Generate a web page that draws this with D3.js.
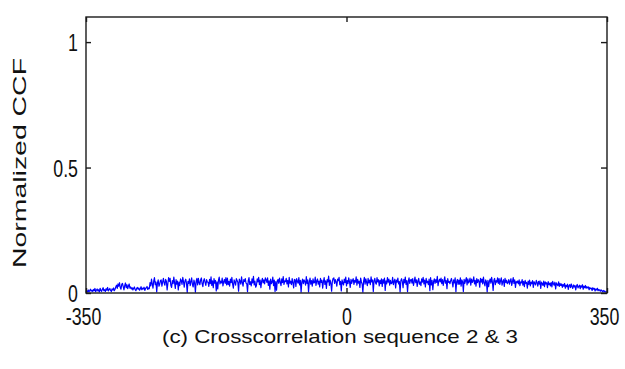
<!DOCTYPE html>
<html>
<head>
<meta charset="utf-8">
<script src="https://cdn.jsdelivr.net/npm/d3@7"></script>
<style>
  body { margin: 0; background: #fff; }
  svg { display: block; }
  text { font-family: "Liberation Sans", Arial, sans-serif; fill: #111; }
</style>
</head>
<body>
<svg id="chart" width="625" height="369"></svg>
<script>
// lags and the normalized |CCF|
const lagRange = [-350, 350];
const lags = d3.range(-350, 351);
const xTicks = [-350, 0, 350];
const yTicks = [0, 0.5, 1];
const yTickLabels = ["0", "0.5", "1"];
const xLabel = "(c) Crosscorrelation sequence 2 & 3";
const yLabel = "Normalized CCF";

// lags -350 .. -311
const ccfLeftEdge = [.003,.008,.005,.012,.004,.010,.015,.007,.011,.006,.014,.009,.018,.005,.012,.016,.008,.013,.004,.019,
  .010,.007,.015,.021,.009,.013,.006,.017,.011,.022,.008,.014,.018,.010,.006,.016,.012,.020,.009,.015];
// lags -310 .. -290
const ccfLeftBump = [.024,.031,.018,.036,.027,.041,.022,.015,.034,.038,.025,.012,.029,.040,.021,.033,.017,.028,.036,.019,.024];
// lags -289 .. -265
const ccfLeftFlat = [.016,.021,.012,.019,.024,.014,.009,.018,.022,.015,.020,.011,.017,.025,.013,.019,.016,.023,.010,.018,.021,.026,.014,.020,.017];
// lags -264 .. 229
const ccfMiddle = [
  .041,.028,.055,.036,.019,.048,.061,.033,.044,.004,.039,.052,.027,
  .035,.049,.052,.027,.044,.058,.040,.031,.054,.047,.012,.038,.061,
  .046,.058,.031,.022,.049,.037,.063,.041,.018,.053,.035,.047,.012,
  .043,.029,.056,.050,.034,.062,.045,.023,.048,.055,.039,.002,.046,
  .038,.056,.029,.045,.060,.034,.024,.051,.040,.003,.047,.058,.032,
  .058,.041,.033,.052,.060,.037,.025,.049,.057,.042,.030,.053,.044,
  .043,.026,.054,.037,.064,.030,.048,.021,.057,.039,.050,.008,.044,
  .016,.051,.063,.036,.047,.040,.059,.028,.045,.054,.038,.061,.032,
  .059,.033,.046,.027,.055,.041,.062,.035,.019,.052,.044,.031,.057,
  .050,.043,.007,.055,.048,.035,.064,.042,.027,.053,.046,.057,.039,
  .038,.005,.049,.061,.034,.045,.028,.056,.040,.066,.032,.047,.023,
  .030,.056,.044,.062,.033,.051,.021,.047,.058,.040,.052,.036,.060,
  .053,.042,.060,.030,.048,.015,.055,.037,.043,.063,.029,.051,.006,
  .045,.011,.049,.054,.038,.059,.043,.029,.056,.041,.065,.034,.048,
  .045,.058,.036,.050,.024,.062,.039,.047,.033,.057,.041,.020,.054,
  .053,.026,.057,.046,.039,.061,.032,.050,.003,.044,.055,.037,.052,
  .046,.031,.065,.038,.052,.004,.043,.059,.035,.049,.027,.056,.040,
  .041,.063,.030,.048,.056,.035,.047,.024,.058,.042,.051,.019,.045,
  .061,.034,.048,.018,.053,.044,.067,.030,.051,.039,.007,.046,.058,
  .060,.038,.053,.044,.027,.055,.049,.062,.033,.046,.008,.052,.040,
  .032,.055,.041,.063,.028,.049,.037,.060,.045,.022,.054,.038,.050,
  .057,.034,.050,.043,.064,.031,.054,.039,.047,.022,.059,.045,.036,
  .003,.047,.062,.035,.056,.042,.029,.058,.040,.051,.033,.064,.044,
  .052,.006,.048,.058,.041,.035,.061,.044,.053,.028,.050,.037,.056,
  .026,.053,.039,.059,.010,.048,.036,.061,.043,.055,.031,.050,.037,
  .040,.062,.033,.047,.055,.020,.051,.043,.059,.036,.046,.004,.049,
  .057,.045,.021,.054,.040,.063,.034,.049,.005,.046,.060,.038,.052,
  .054,.039,.057,.030,.045,.063,.041,.052,.026,.048,.058,.035,.044,
  .029,.056,.043,.062,.036,.051,.024,.058,.041,.047,.033,.055,.009,
  .061,.032,.050,.013,.046,.056,.038,.053,.042,.066,.029,.047,.055,
  .044,.059,.037,.053,.030,.048,.064,.039,.050,.017,.057,.042,.046,
  .037,.049,.058,.043,.024,.052,.040,.060,.005,.045,.054,.034,.051,
  .035,.060,.027,.052,.045,.006,.054,.038,.049,.061,.032,.056,.040,
  .046,.059,.031,.055,.042,.048,.064,.036,.050,.027,.057,.041,.053,
  .047,.023,.058,.043,.055,.036,.063,.041,.028,.052,.045,.004,.050,
  .025,.047,.056,.039,.062,.044,.010,.051,.058,.033,.049,.043,.060,
  .038,.057,.034,.049,.060,.031,.046,.053,.026,.058,.042,.051,.037,
  .042,.053,.035,.048,.057,.030,.045,.061,.038,.052,.022,.046,.041
];
// lags 230 .. 287
const ccfRightFall = [.048,.036,.052,.029,.044,.040,.053,.031,.046,.025,.050,.038,.042,.019,.047,.034,.051,.028,.043,.037,
  .049,.022,.045,.039,.032,.050,.041,.027,.046,.035,.048,.018,.043,.038,.030,.047,.025,.044,.036,.041,
  .021,.045,.033,.039,.028,.042,.024,.046,.037,.031,.043,.016,.040,.034,.029,.044,.026,.038];
// lags 288 .. 323
const ccfRightLow = [.030,.036,.022,.034,.027,.038,.019,.031,.025,.035,.014,.029,.033,.021,.036,.026,.018,.032,.024,.030,
  .012,.028,.034,.020,.026,.031,.017,.029,.023,.033,.015,.027,.021,.030,.019,.025];
// lags 324 .. 350
const ccfRightEdge = [.020,.024,.013,.022,.017,.019,.010,.021,.015,.018,.008,.016,.012,.019,.009,.014,.011,.007,.013,.009,
  .006,.010,.005,.008,.004,.005,.003];

const ccf = [].concat(ccfLeftEdge, ccfLeftBump, ccfLeftFlat, ccfMiddle, ccfRightFall, ccfRightLow, ccfRightEdge);
const series = lags.map((lag, i) => ({lag, v: ccf[i]})).filter(d => d.v !== undefined);

const svg = d3.select("#chart");
const plot = {left: 86, right: 607, top: 17, bottom: 293};

const x = d3.scaleLinear().domain(lagRange).range([plot.left, plot.right]);
const y = d3.scaleLinear().domain([0, 1.1]).range([plot.bottom, plot.top]);

// squeeze text horizontally like the source image
function squeeze(sel, factor) {
  sel.each(function() {
    const w = this.getComputedTextLength();
    d3.select(this).attr("textLength", w * factor).attr("lengthAdjust", "spacingAndGlyphs");
  });
}

// data line
svg.append("path")
  .datum(series)
  .attr("fill", "none")
  .attr("stroke", "#0000ff")
  .attr("stroke-width", 1.2)
  .attr("stroke-linejoin", "round")
  .attr("d", d3.line().x(d => x(d.lag)).y(d => y(d.v)));

// axes, ticks inward
const axisColor = "#1a1a1a";
const gBottom = svg.append("g")
  .attr("transform", `translate(0,${plot.bottom})`)
  .call(d3.axisBottom(x).tickValues(xTicks).tickSizeInner(-5).tickSizeOuter(0).tickFormat(d => String(d)));
const gLeft = svg.append("g")
  .attr("transform", `translate(${plot.left},0)`)
  .call(d3.axisLeft(y).tickValues(yTicks).tickSizeInner(-5).tickSizeOuter(0).tickFormat((d, i) => yTickLabels[i]));
const gTop = svg.append("g")
  .attr("transform", `translate(0,${plot.top})`)
  .call(d3.axisTop(x).tickValues(xTicks).tickSizeInner(-5).tickSizeOuter(0).tickFormat(""));
const gRight = svg.append("g")
  .attr("transform", `translate(${plot.right},0)`)
  .call(d3.axisRight(y).tickValues(yTicks).tickSizeInner(-6).tickSizeOuter(0).tickFormat(""));

[gBottom, gLeft, gTop, gRight].forEach(g => {
  g.select(".domain").remove();
  g.selectAll("line").attr("stroke", axisColor).attr("stroke-width", 1.4);
});

gBottom.selectAll("text")
  .attr("font-size", 24)
  .attr("fill", "#111")
  .attr("font-family", "'Liberation Sans', Arial, sans-serif")
  .attr("dy", null)
  .attr("y", 32)
  .attr("dx", d => d === -350 ? -3 : d === 350 ? -3 : 0)
  .call(squeeze, 0.74);

gLeft.selectAll("text")
  .attr("font-size", 24)
  .attr("fill", "#111")
  .attr("font-family", "'Liberation Sans', Arial, sans-serif")
  .attr("x", -8)
  .attr("dy", "0.36em")
  .call(squeeze, 0.74);

// box
svg.append("rect")
  .attr("x", plot.left)
  .attr("y", plot.top)
  .attr("width", plot.right - plot.left)
  .attr("height", plot.bottom - plot.top)
  .attr("fill", "none")
  .attr("stroke", axisColor)
  .attr("stroke-width", 1.4);

// labels
svg.append("text")
  .attr("x", 340)
  .attr("y", 343)
  .attr("text-anchor", "middle")
  .attr("font-size", 19)
  .attr("textLength", 356)
  .attr("lengthAdjust", "spacingAndGlyphs")
  .text(xLabel);

svg.append("text")
  .attr("transform", "translate(26,163) rotate(-90)")
  .attr("text-anchor", "middle")
  .attr("font-size", 18)
  .attr("fill", "#222")
  .attr("textLength", 210)
  .attr("lengthAdjust", "spacingAndGlyphs")
  .text(yLabel);
</script>
</body>
</html>
